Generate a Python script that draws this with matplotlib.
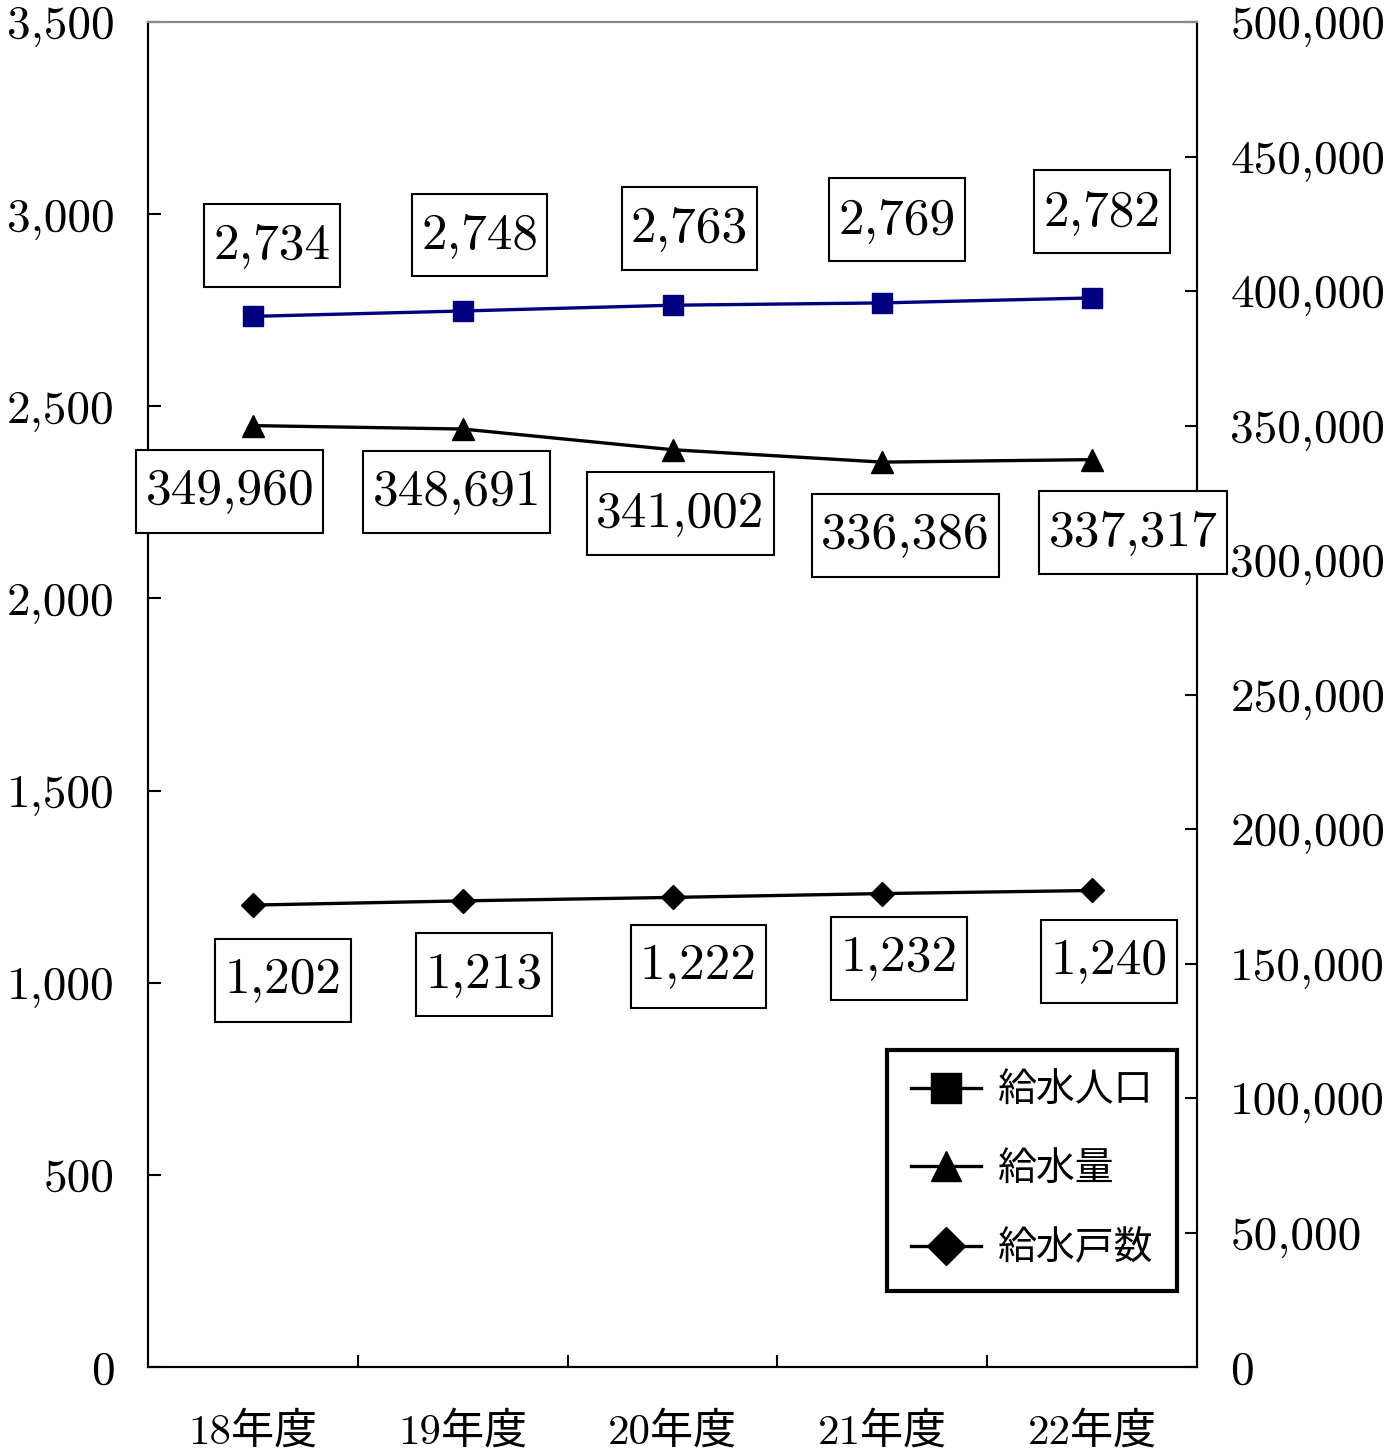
import matplotlib
matplotlib.use("Agg")
from matplotlib import pyplot as plt
from matplotlib.lines import Line2D
from matplotlib.path import Path
from matplotlib.ticker import FixedLocator

FONT = ["cmr10", "Noto Sans CJK JP"]
plt.rcParams["font.family"] = FONT
plt.rcParams["axes.unicode_minus"] = False

# data
years = ["18年度", "19年度", "20年度", "21年度", "22年度"]
population = [2734, 2748, 2763, 2769, 2782]          # left axis
supply = [349960, 348691, 341002, 336386, 337317]    # right axis
households = [1202, 1213, 1222, 1232, 1240]          # left axis
series_names = ["給水人口", "給水量", "給水戸数"]

left_ticks = list(range(0, 3501, 500))
right_ticks = list(range(0, 500001, 50000))

# label box offsets in pixels (dx, dy up)
pop_off = [(19, 71), (17, 76), (17, 77), (15, 83), (10, 86)]
sup_off = [(-23, -66), (-6, -63), (8, -64), (23, -73), (41, -73)]
hh_off = [(30, -75), (21, -74), (26, -69), (17, -65), (17, -71)]


def tall_box(x0, y0, width, height, mutation_size):
    # rectangle with less padding left/right than top/bottom
    px = 0.18 * mutation_size
    py = 0.36 * mutation_size
    x0, x1 = x0 - px, x0 + width + px
    y0, y1 = y0 - py, y0 + height + py
    return Path([(x0, y0), (x1, y0), (x1, y1), (x0, y1), (x0, y0)], closed=True)


fig = plt.figure(figsize=(13.9, 14.51), dpi=100)
ax = fig.add_axes([148 / 1390, 84 / 1451, 1049 / 1390, 1345 / 1451])
ax2 = ax.twinx()

x = list(range(len(years)))
ax.plot(x, population, color="#000080", lw=2.4, marker="s", ms=14, zorder=3)
ax.plot(x, households, color="black", lw=2.4, marker="D", ms=12, zorder=3)
ax2.plot(x, supply, color="black", lw=2.4, marker="^", ms=16, zorder=3)

box = dict(boxstyle=tall_box, fc="white", ec="black", lw=1.5)


def labels(axis, vals, offs):
    for i, (v, o) in enumerate(zip(vals, offs)):
        axis.annotate(f"{v:,}", (i, v), xytext=o, textcoords="offset pixels",
                      ha="center", va="center", fontsize=37, bbox=box,
                      family=FONT)


labels(ax, population, pop_off)
labels(ax, households, hh_off)
labels(ax2, supply, sup_off)

ax.set_xlim(-0.5, len(years) - 0.5)
ax.set_ylim(0, 3500)
ax2.set_ylim(0, 500000)

ax.set_xticks(x)
ax.set_xticklabels(years, fontsize=31)
ax.xaxis.set_minor_locator(FixedLocator([i + 0.5 for i in x[:-1]]))
ax.tick_params(axis="x", which="major", length=0, pad=32)
ax.tick_params(axis="x", which="minor", direction="in", length=9, width=1.5)

ax.set_yticks(left_ticks)
ax.set_yticklabels([f"{t:,}" for t in left_ticks], fontsize=34)
ax.tick_params(axis="y", direction="in", length=9, width=1.5, pad=24)

ax2.set_yticks(right_ticks)
ax2.set_yticklabels([f"{t:,}" for t in right_ticks], fontsize=34)
ax2.tick_params(axis="y", direction="in", length=9, width=1.5, pad=24)

for a in (ax, ax2):
    for s in ("left", "right", "bottom"):
        a.spines[s].set_linewidth(1.5)
    a.spines["top"].set_color("#888888")
    a.spines["top"].set_linewidth(1.5)

handles = [
    Line2D([], [], color="black", lw=2.4, marker="s", ms=21),
    Line2D([], [], color="black", lw=2.4, marker="^", ms=21),
    Line2D([], [], color="black", lw=2.4, marker="D", ms=19),
]
leg = ax2.legend(handles, series_names, loc="upper right",
                 bbox_to_anchor=(0.981, 0.2357), borderaxespad=0,
                 fancybox=False, edgecolor="black", framealpha=1,
                 prop={"family": FONT, "size": 28}, handlelength=1.8,
                 handletextpad=0.45, labelspacing=1.1, borderpad=0.6)
leg.get_frame().set_linewidth(3)

fig.savefig("out.png", dpi=100)
